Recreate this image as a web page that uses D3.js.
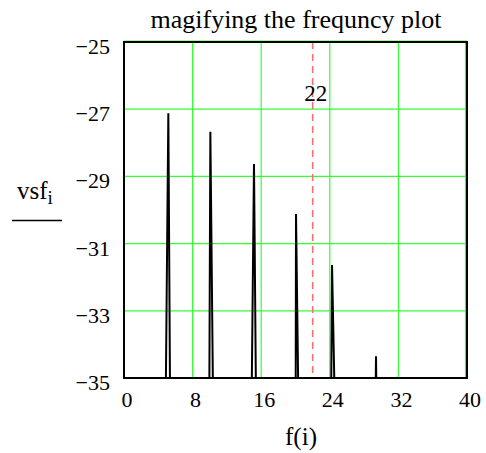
<!DOCTYPE html>
<html>
<head>
<meta charset="utf-8">
<script src="https://cdn.jsdelivr.net/npm/d3@7"></script>
<style>
  body { margin: 0; background: #fff; }
  text { font-family: "Liberation Serif", "Times New Roman", serif; fill: #000; }
</style>
</head>
<body>
<div id="chart"></div>
<script>
// spectrum trace (frequency, magnitude); base points sit below the visible floor
const freqPts = [4.87, 5.17, 5.37, 9.95, 10.07, 10.38, 14.89, 15.16, 15.39,
  20.02, 20.06, 20.33, 24.16, 24.26, 24.56, 29.34, 29.39, 29.44];
const vsfPts = [-35.5, -27.12, -35.5, -35.5, -27.67, -35.5, -35.5, -28.63, -35.5,
  -35.5, -30.12, -35.5, -35.5, -31.64, -35.5, -35.5, -34.35, -35.5];
const xTicks = [0, 8, 16, 24, 32, 40];
const yTicks = [-25, -27, -29, -31, -33, -35];
const markerF = 22;
const title = "magifying the frequncy plot";

const width = 486, height = 453;
const pLeft = 124, pRight = 467, pTop = 42, pBottom = 378;

const svg = d3.select("#chart").append("svg")
  .attr("width", width)
  .attr("height", height);

const x = d3.scaleLinear().domain([0, 40]).range([pLeft, pRight]);
const y = d3.scaleLinear().domain([-35, -25]).range([pBottom, pTop]);

// title
svg.append("text")
  .attr("x", 296).attr("y", 28)
  .attr("text-anchor", "middle")
  .attr("font-size", 26)
  .text(title);

// green grid
svg.selectAll(".gx").data(xTicks).enter().append("line")
  .attr("x1", d => x(d) - (d === 40 ? 1.5 : 0)).attr("x2", d => x(d) - (d === 40 ? 1.5 : 0))
  .attr("y1", pTop).attr("y2", pBottom)
  .attr("stroke", "#33ff33").attr("stroke-width", 1.2);
svg.selectAll(".gy").data(yTicks).enter().append("line")
  .attr("y1", d => y(d) - (d === -25 ? 1 : 0)).attr("y2", d => y(d) - (d === -25 ? 1 : 0))
  .attr("x1", pLeft).attr("x2", pRight)
  .attr("stroke", "#33ff33").attr("stroke-width", 1.2);

// clip for trace
svg.append("clipPath").attr("id", "clip")
  .append("rect").attr("x", pLeft).attr("y", pTop)
  .attr("width", pRight - pLeft).attr("height", pBottom - pTop);

// marker line
svg.append("line")
  .attr("x1", x(markerF)).attr("x2", x(markerF))
  .attr("y1", pTop).attr("y2", pBottom)
  .attr("stroke", "#ff6b6b").attr("stroke-width", 1.5)
  .attr("stroke-dasharray", "7,5");
svg.append("text")
  .attr("x", x(markerF) + 3).attr("y", 101)
  .attr("text-anchor", "middle")
  .attr("font-size", 23)
  .text(markerF);

// trace
const line = d3.line().x((d, i) => x(freqPts[i])).y(d => y(d));
svg.append("path")
  .attr("clip-path", "url(#clip)")
  .attr("d", line(vsfPts))
  .attr("fill", "none")
  .attr("stroke", "#000")
  .attr("stroke-width", 2)
  .attr("stroke-linejoin", "miter");

// frame
svg.append("rect")
  .attr("x", pLeft).attr("y", pTop)
  .attr("width", pRight - pLeft).attr("height", pBottom - pTop)
  .attr("fill", "none").attr("stroke", "#000").attr("stroke-width", 2);

// tick labels
svg.selectAll(".xl").data(xTicks).enter().append("text")
  .attr("x", d => x(d) + 3).attr("y", 407)
  .attr("text-anchor", "middle")
  .attr("font-size", 22)
  .text(d => d);
svg.selectAll(".yl").data(yTicks).enter().append("text")
  .attr("x", 110).attr("y", d => y(d) + 12)
  .attr("text-anchor", "end")
  .attr("font-size", 22)
  .text(d => "\u2212" + Math.abs(d));

// axis titles
svg.append("text")
  .attr("x", 301).attr("y", 445)
  .attr("text-anchor", "middle")
  .attr("font-size", 25)
  .text("f(i)");
const yl = svg.append("text").attr("x", 17).attr("y", 199).attr("font-size", 25);
yl.append("tspan").text("vsf");
yl.append("tspan").attr("font-size", 19).attr("dy", 5).text("i");
svg.append("line")
  .attr("x1", 12).attr("x2", 62)
  .attr("y1", 220.5).attr("y2", 220.5)
  .attr("stroke", "#000").attr("stroke-width", 1.5);
</script>
</body>
</html>
